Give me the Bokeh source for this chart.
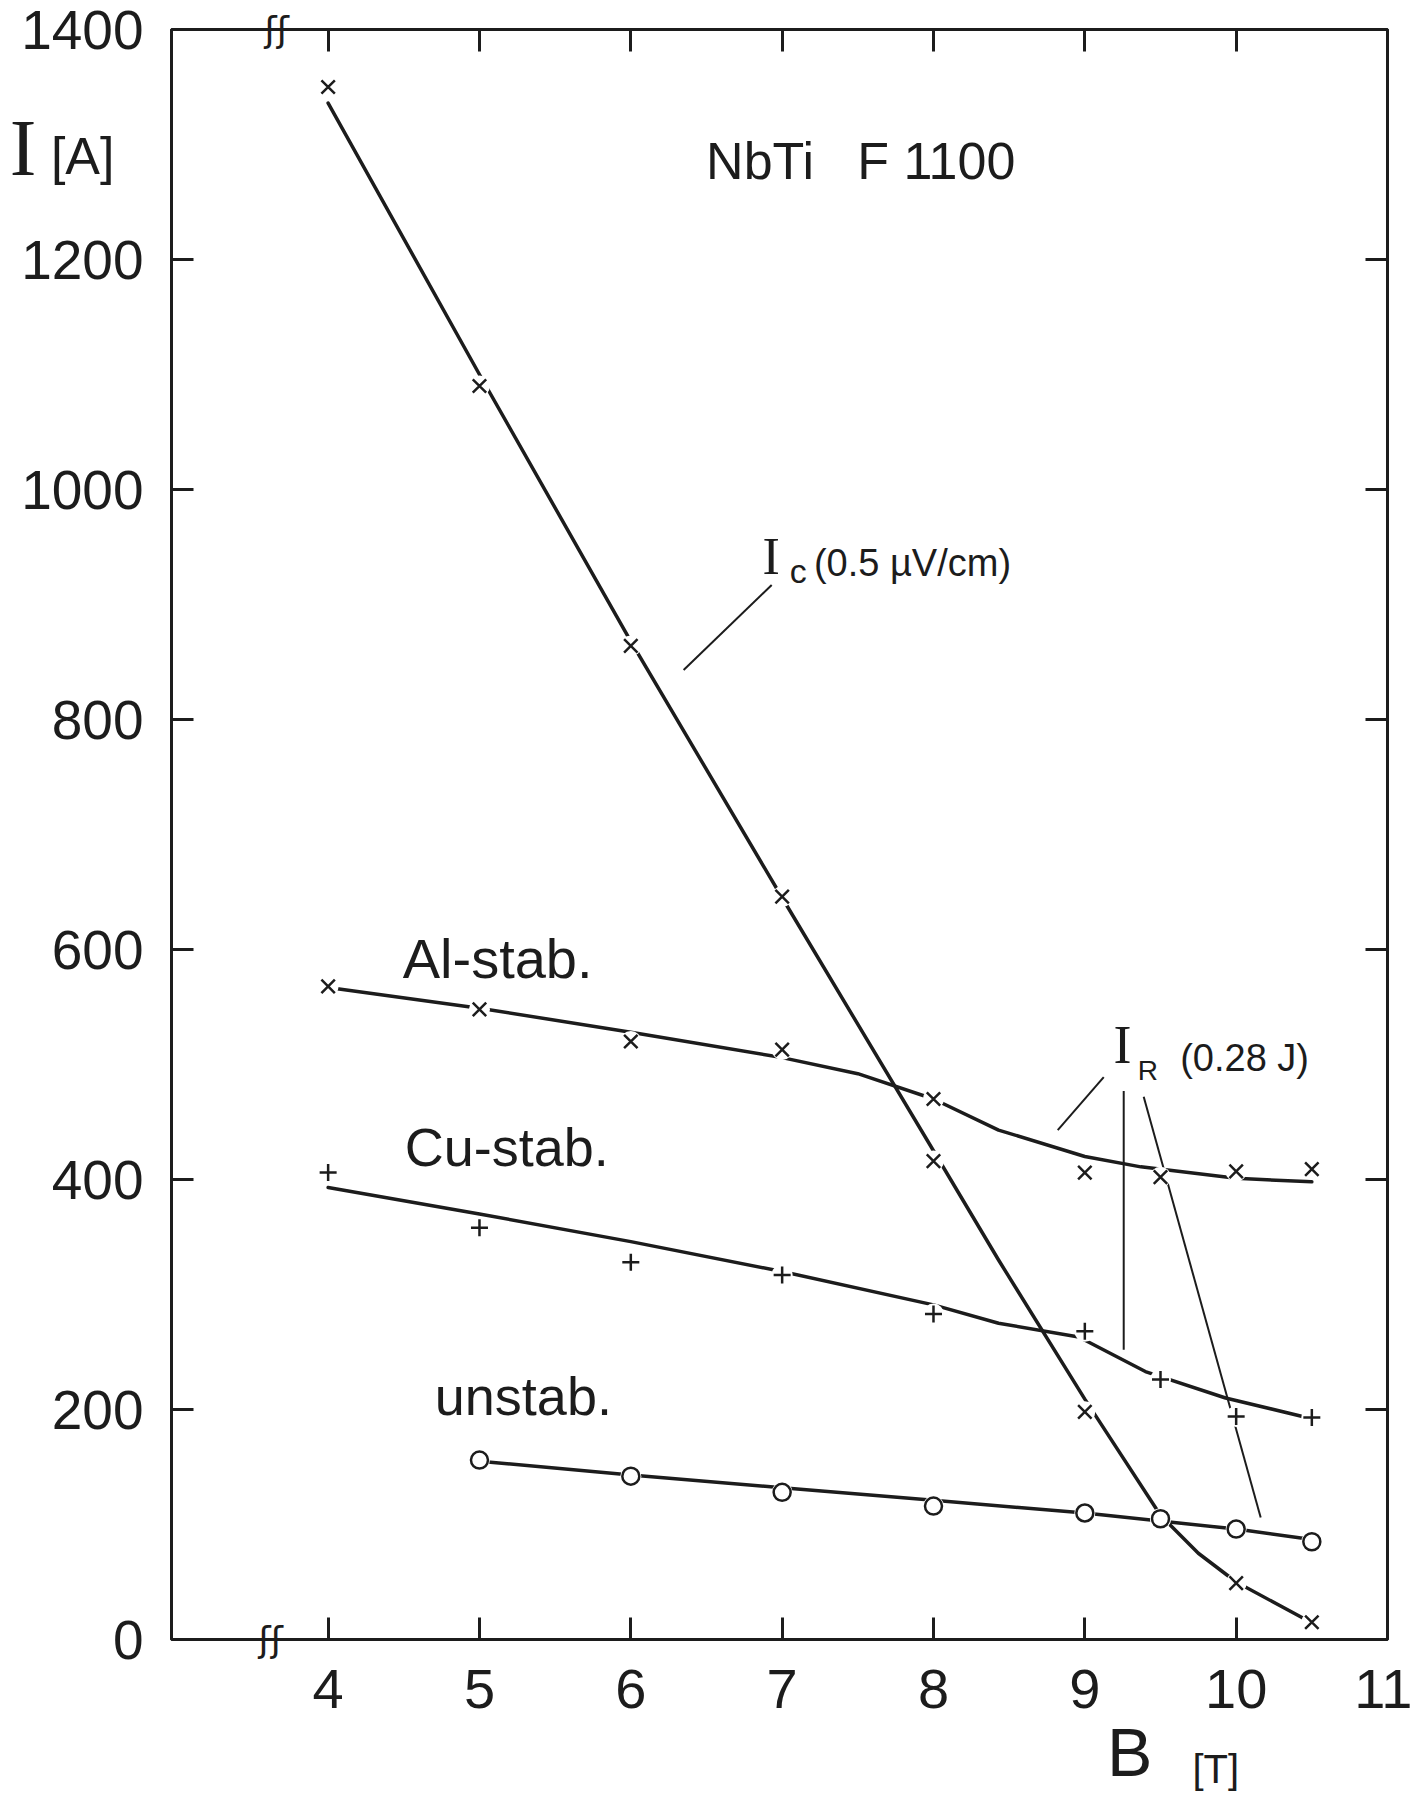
from bokeh.plotting import figure
from bokeh.models import Range1d, LinearAxis, FixedTicker, Label
from bokeh.embed import file_html
from bokeh.resources import INLINE

# ---- measured points (B in tesla, I in ampere) ----
B_pts = [4, 5, 6, 7, 8, 9, 9.5, 10, 10.5]
Ic_pts = [1350, 1090, 864, 646, 416, 198, 105, 49, 15]
Al_pts = [568, 548, 520, 513, 470, 406, 402, 407, 409]
Cu_pts = [406, 358, 328, 317, 283, 268, 226, 194, 193]
B_un = [5, 6, 7, 8, 9, 9.5, 10, 10.5]
Un_pts = [156, 142, 128, 116, 110, 105, 96, 85]

# ---- hand-drawn fit curves ----
Ic_fit_B = [4, 5, 6, 7, 8, 8.43, 9, 9.5, 9.75, 10, 10.45]
Ic_fit = [1336, 1100, 868, 645, 425, 330, 209, 108, 75, 50, 18]
Al_fit_B = [4, 5, 6, 7, 7.5, 8, 8.43, 9, 9.37, 10, 10.5]
Al_fit = [567, 549, 528, 506, 492, 470, 443, 420, 411, 401, 398]
Cu_fit_B = [4, 5, 6, 7, 8, 8.43, 8.96, 9.4, 9.93, 10.5]
Cu_fit = [393, 370, 346, 320, 291, 275, 263, 233, 210, 192]
Un_fit_B = [5, 6, 7, 8, 9, 10, 10.5]
Un_fit = [155, 143, 132, 121, 110, 96, 87]

# ---- axis ticks and labels ----
x_ticks = [4, 5, 6, 7, 8, 9, 10, 11]
x_tick_marks = [4, 5, 6, 7, 8, 9, 10]
y_ticks = [0, 200, 400, 600, 800, 1000, 1200, 1400]
y_tick_marks = [200, 400, 600, 800, 1000, 1200]
x_break = [3.62]
x_break_top = [3.66]
break_label = ["ʃʃ"]
x_title_B = [9.297]
x_title_unit = [9.865]
y_title_I = [1297]
y_title_unit = [1290]

# ---- leader lines for the annotations ----
Ic_lead_B = [6.349, 6.931]
Ic_lead_I = [843, 917]
IR_lead1_B = [8.821, 9.125]
IR_lead1_I = [443, 489]
IR_lead2_B = [9.257, 9.257]
IR_lead2_I = [252, 477]
IR_lead3_B = [9.389, 10.162]
IR_lead3_I = [472, 106]

INK = "#1c1c1c"
TICK_FONT = "Liberation Sans"
TEXT_FONT = "Liberation Sans"
SERIF = "Liberation Serif"
NB = "\u00a0"

p = figure(width=1412, height=1793,
           x_range=Range1d(2.965, 11), y_range=Range1d(0, 1400),
           output_backend="svg", toolbar_location=None,
           x_axis_location=None, y_axis_location=None,
           min_border_left=171, min_border_right=25,
           min_border_top=29, min_border_bottom=153)
p.grid.grid_line_color = None
p.outline_line_color = INK
p.outline_line_width = 3
p.background_fill_color = "white"
p.border_fill_color = "white"


def make_axis(ticks=(), minor=(), labels=None, font=TICK_FONT, size="55px",
              standoff=0, line=False):
    ax = LinearAxis(ticker=FixedTicker(ticks=list(ticks), minor_ticks=list(minor)))
    ax.major_tick_in = 0
    ax.major_tick_out = 0
    ax.major_tick_line_color = None
    ax.minor_tick_in = 22 if minor else 0
    ax.minor_tick_out = 0
    ax.minor_tick_line_width = 3
    ax.minor_tick_line_color = INK if minor else None
    ax.axis_line_width = 3
    ax.axis_line_color = INK if line else None
    ax.major_label_text_font = font
    ax.major_label_text_font_size = size
    ax.major_label_text_color = INK
    ax.major_label_standoff = standoff
    if labels is not None:
        ax.major_label_overrides = dict(zip(ticks, labels))
    return ax


# bottom: frame line + tick marks + break mark, then numbers, then axis title
p.add_layout(make_axis(x_break, x_tick_marks, break_label, font="DejaVu Sans",
                       size="36px", standoff=-21, line=True), "below")
p.add_layout(make_axis(x_ticks, size="56px", standoff=7), "below")
p.add_layout(make_axis(x_title_unit, labels=["[T]"], size="40px", standoff=36), "below")
p.add_layout(make_axis(x_title_B, labels=["B"], size="68px", standoff=-80), "below")

# left: frame line + tick marks + numbers, then axis title "I [A]"
p.add_layout(make_axis(y_ticks, y_tick_marks, standoff=28, line=True), "left")
p.add_layout(make_axis(y_title_I, labels=["I"], font=SERIF, size="80px", standoff=-18), "left")
p.add_layout(make_axis(y_title_unit, labels=["[A]"], size="52px", standoff=-108), "left")

# top and right: frame lines with inward ticks (break mark on top)
p.add_layout(make_axis(x_break_top, x_tick_marks, break_label, font="DejaVu Sans",
                       size="36px", standoff=-20, line=True), "above")
p.add_layout(make_axis((), y_tick_marks, line=True), "right")

# fitted curves
for bx, iy in [(Ic_fit_B, Ic_fit), (Al_fit_B, Al_fit), (Cu_fit_B, Cu_fit), (Un_fit_B, Un_fit)]:
    p.line(bx, iy, line_color=INK, line_width=3.5, line_join="round", line_cap="round")

# leader lines
for bx, iy in [(Ic_lead_B, Ic_lead_I), (IR_lead1_B, IR_lead1_I),
               (IR_lead2_B, IR_lead2_I), (IR_lead3_B, IR_lead3_I)]:
    p.line(bx, iy, line_color=INK, line_width=2)

# white halos so the curves break around the symbols
for bx, iy in [(B_pts, Ic_pts), (B_pts, Al_pts), (B_pts, Cu_pts), (B_un, Un_pts)]:
    p.scatter(bx, iy, marker="circle", size=21, fill_color="white", line_color=None)

# symbols
p.scatter(B_pts, Ic_pts, marker="x", size=19, line_color=INK, line_width=2.5)
p.scatter(B_pts, Al_pts, marker="x", size=19, line_color=INK, line_width=2.5)
p.scatter(B_pts, Cu_pts, marker="cross", size=17, line_color=INK, line_width=2.5)
p.scatter(B_un, Un_pts, marker="circle", size=17, fill_color="white", line_color=INK, line_width=2.5)


def lab(x, y, text, size, font=TEXT_FONT, align="left", baseline="alphabetic"):
    p.add_layout(Label(x=x, y=y, text=text, text_font=font, text_font_size=size,
                       text_color=INK, text_align=align, text_baseline=baseline))


# title
lab(7.519, 1286, "NbTi" + NB * 3 + "F 1100", "52px", align="center")

# curve labels
lab(5.12, 592, "Al-stab.", "56px", align="center")
lab(5.18, 428, "Cu-stab.", "54px", align="center")
lab(5.29, 212, "unstab.", "54px", align="center")

# Ic annotation
lab(6.87, 942, "I", "52px", font=SERIF)
lab(7.05, 929, "c", "34px")
lab(7.21, 936, "(0.5 µV/cm)", "38px")

# IR annotation
lab(9.19, 517, "I", "54px", font=SERIF)
lab(9.35, 495, "R", "28px")
lab(9.63, 506, "(0.28 J)", "38px")

open("out.html", "w").write(file_html(p, INLINE))
